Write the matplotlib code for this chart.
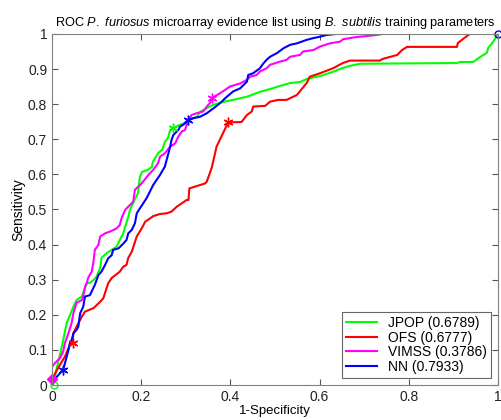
import numpy as np
import matplotlib
matplotlib.use('Agg')
import matplotlib.pyplot as plt

plt.rcParams['font.family'] = ['Liberation Sans', 'DejaVu Sans']
plt.rcParams['mathtext.fontset'] = 'custom'
plt.rcParams['mathtext.rm'] = 'Liberation Sans'
plt.rcParams['mathtext.it'] = 'Liberation Sans:italic'

# ROC curves (1-specificity, sensitivity)
jpop_x = [0, 0.007, 0.022, 0.033, 0.048, 0.055, 0.067, 0.074, 0.078, 0.085, 0.093, 0.100, 0.108, 0.111,
          0.123, 0.134, 0.145, 0.152, 0.160, 0.164, 0.171, 0.175, 0.182, 0.193, 0.197, 0.202, 0.215,
          0.224, 0.226, 0.238, 0.247, 0.253, 0.260, 0.265, 0.271, 0.287, 0.303, 0.309, 0.325, 0.332,
          0.361, 0.383, 0.406, 0.437, 0.466, 0.489, 0.504, 0.534, 0.556, 0.572, 0.601, 0.630, 0.652,
          0.668, 0.691, 0.908, 0.915, 0.944, 0.960, 0.975, 0.978, 0.989, 1.0]
jpop_y = [0, 0.028, 0.109, 0.177, 0.223, 0.242, 0.252, 0.276, 0.291, 0.291, 0.299, 0.309, 0.333, 0.362,
          0.376, 0.385, 0.394, 0.413, 0.433, 0.451, 0.479, 0.499, 0.519, 0.547, 0.593, 0.607, 0.613,
          0.621, 0.635, 0.661, 0.670, 0.692, 0.704, 0.726, 0.732, 0.741, 0.749, 0.755, 0.764, 0.778,
          0.798, 0.806, 0.812, 0.821, 0.835, 0.843, 0.849, 0.860, 0.863, 0.872, 0.880, 0.892, 0.903,
          0.909, 0.915, 0.917, 0.920, 0.920, 0.934, 0.946, 0.960, 0.977, 1.0]

ofs_x = [0, 0.002, 0.011, 0.029, 0.040, 0.046, 0.048, 0.055, 0.063, 0.067, 0.074, 0.093, 0.108, 0.115,
         0.126, 0.134, 0.152, 0.160, 0.167, 0.171, 0.179, 0.190, 0.201, 0.209, 0.227, 0.242, 0.257,
         0.268, 0.280, 0.302, 0.306, 0.308, 0.343, 0.347, 0.358, 0.369, 0.395, 0.425, 0.437, 0.448,
         0.451, 0.478, 0.489, 0.507, 0.526, 0.549, 0.571, 0.578, 0.601, 0.630, 0.652, 0.668, 0.735,
         0.742, 0.774, 0.785, 0.796, 0.908, 0.910, 0.922, 0.937, 1.0]
ofs_y = [0, 0.020, 0.043, 0.081, 0.114, 0.119, 0.148, 0.166, 0.185, 0.195, 0.209, 0.219, 0.237, 0.247,
         0.290, 0.305, 0.323, 0.337, 0.342, 0.362, 0.380, 0.423, 0.446, 0.465, 0.481, 0.487, 0.489,
         0.494, 0.508, 0.527, 0.527, 0.560, 0.574, 0.579, 0.618, 0.679, 0.748, 0.749, 0.769, 0.779,
         0.793, 0.795, 0.807, 0.812, 0.812, 0.826, 0.860, 0.878, 0.888, 0.902, 0.917, 0.924, 0.924,
         0.929, 0.940, 0.954, 0.963, 0.963, 0.974, 0.986, 1.0, 1.0]

vimss_x = [0, 0, 0.007, 0.018, 0.025, 0.029, 0.037, 0.044, 0.048, 0.055, 0.067, 0.070, 0.074, 0.078,
           0.081, 0.089, 0.093, 0.096, 0.104, 0.108, 0.119, 0.130, 0.145, 0.152, 0.156, 0.164, 0.175,
           0.182, 0.186, 0.201, 0.216, 0.227, 0.238, 0.242, 0.253, 0.265, 0.276, 0.283, 0.291, 0.298,
           0.302, 0.306, 0.313, 0.324, 0.339, 0.347, 0.354, 0.358, 0.377, 0.399, 0.422, 0.437, 0.444,
           0.459, 0.466, 0.481, 0.489, 0.511, 0.526, 0.534, 0.556, 0.563, 0.586, 0.601, 0.623, 0.646,
           0.653, 0.683, 0.706, 0.728, 0.743, 1.0]
vimss_y = [0.017, 0.052, 0.063, 0.077, 0.095, 0.120, 0.148, 0.177, 0.205, 0.234, 0.242, 0.252, 0.280,
           0.290, 0.305, 0.323, 0.351, 0.385, 0.399, 0.423, 0.432, 0.437, 0.446, 0.456, 0.475, 0.499,
           0.513, 0.522, 0.556, 0.574, 0.598, 0.613, 0.632, 0.650, 0.660, 0.679, 0.688, 0.707, 0.722,
           0.726, 0.741, 0.755, 0.769, 0.774, 0.779, 0.793, 0.803, 0.817, 0.831, 0.850, 0.859, 0.869,
           0.878, 0.883, 0.893, 0.902, 0.912, 0.921, 0.926, 0.935, 0.940, 0.950, 0.954, 0.964, 0.973,
           0.978, 0.985, 0.991, 0.994, 0.997, 1.0, 1.0]

nn_x = [0, 0.011, 0.025, 0.029, 0.037, 0.040, 0.044, 0.048, 0.055, 0.059, 0.063, 0.070, 0.074, 0.085,
        0.096, 0.104, 0.111, 0.119, 0.126, 0.134, 0.137, 0.149, 0.160, 0.167, 0.171, 0.179, 0.186,
        0.190, 0.197, 0.212, 0.227, 0.242, 0.253, 0.257, 0.261, 0.265, 0.268, 0.272, 0.276, 0.283,
        0.287, 0.294, 0.298, 0.304, 0.317, 0.332, 0.347, 0.362, 0.377, 0.392, 0.406, 0.422, 0.437,
        0.440, 0.451, 0.466, 0.474, 0.481, 0.489, 0.504, 0.519, 0.534, 0.549, 0.571, 0.586, 0.601,
        0.616, 0.638, 1.0]
nn_y = [0, 0.024, 0.043, 0.062, 0.100, 0.119, 0.128, 0.147, 0.157, 0.166, 0.204, 0.223, 0.252, 0.256,
        0.285, 0.313, 0.323, 0.342, 0.361, 0.370, 0.385, 0.389, 0.403, 0.413, 0.432, 0.442, 0.461,
        0.489, 0.503, 0.532, 0.570, 0.598, 0.622, 0.641, 0.660, 0.679, 0.698, 0.712, 0.717, 0.726,
        0.736, 0.741, 0.745, 0.755, 0.760, 0.764, 0.774, 0.788, 0.803, 0.821, 0.836, 0.845, 0.864,
        0.883, 0.888, 0.902, 0.916, 0.926, 0.935, 0.945, 0.959, 0.969, 0.973, 0.983, 0.988, 0.992,
        0.997, 1.0, 1.0]

labels = ['JPOP (0.6789)', 'OFS (0.6777)', 'VIMSS (0.3786)', 'NN (0.7933)']
colors = ['#00ff00', '#ff0000', '#ff00ff', '#0000ff']

# threshold markers seen on the curves
star_x = [[0.271], [0.046, 0.395], [0.358], [0.025, 0.304]]
star_y = [[0.732], [0.119, 0.748], [0.817], [0.043, 0.755]]

fig = plt.figure(figsize=(5.01, 4.2), dpi=100)
ax = fig.add_axes([0.1038, 0.0833, 0.8902, 0.836])

for xs, ys, c, lab in zip([jpop_x, ofs_x, vimss_x, nn_x], [jpop_y, ofs_y, vimss_y, nn_y], colors, labels):
    ax.plot(xs, ys, color=c, lw=1.5, label=lab)

for sx, sy, c in zip(star_x, star_y, colors):
    ax.plot(sx, sy, marker=(6, 2, 0), color=c, ms=7, mew=1, linestyle='none')
ax.plot([0.005], [0.0], 'o', color=colors[0], ms=5, fillstyle='none', clip_on=False)
ax.plot([0.0], [0.017], 'D', color=colors[2], ms=5, clip_on=False)
ax.plot([1.0], [1.0], 'o', color=colors[3], ms=5, fillstyle='none', clip_on=False)

ax.set_xlim(0, 1)
ax.set_ylim(0, 1)
ax.set_xticks(np.arange(0, 1.01, 0.2))
ax.set_xticklabels(['0', '0.2', '0.4', '0.6', '0.8', '1'])
ax.set_yticks(np.arange(0, 1.01, 0.1))
ax.set_yticklabels(['0'] + ['%.1f' % v for v in np.arange(0.1, 0.95, 0.1)] + ['1'])
ax.tick_params(direction='in', top=True, right=True, length=4, labelsize=10, color='#555555',
               labelcolor='#222222')
for s in ax.spines.values():
    s.set_color('#808080')

ax.set_title(r'ROC $\it{P.\ furiosus}$ microarray evidence list using $\it{B.\ subtilis}$ training parameters',
             fontsize=9.2, pad=6)
ax.set_xlabel('1-Specificity', fontsize=9.5, labelpad=0.5)
ax.set_ylabel('Sensitivity', fontsize=10, labelpad=2)

leg = ax.legend(loc='lower right', fontsize=10, frameon=True, fancybox=False, handlelength=2.2,
                borderaxespad=0.5, labelspacing=0.05, borderpad=0.3, handletextpad=0.8)
leg.get_frame().set_edgecolor('#404040')
leg.get_frame().set_linewidth(0.8)

fig.savefig('out.png', dpi=100)
